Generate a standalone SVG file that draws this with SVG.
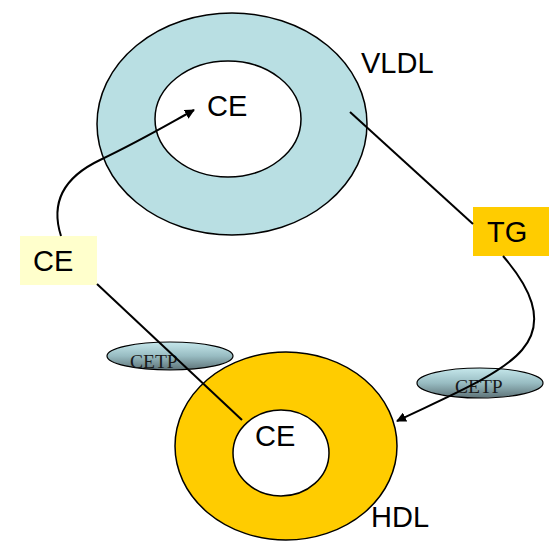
<svg xmlns="http://www.w3.org/2000/svg" width="549" height="543" viewBox="0 0 549 543">
<style>
.lbl{font-family:"Liberation Sans",Arial,sans-serif;font-size:29px;fill:#000}
.cetp{font-family:"Liberation Serif","Times New Roman",serif;font-size:19.5px;fill:#1a1a1a}
.ring{stroke:#000;stroke-width:1.5}
.conn{fill:none;stroke:#000;stroke-width:2}
</style>
<defs>
<linearGradient id="g" x1="0" y1="0" x2="0" y2="1">
<stop offset="0" stop-color="#c6e8ec"/>
<stop offset="0.5" stop-color="#98bcc2"/>
<stop offset="1" stop-color="#5e7378"/>
</linearGradient>
<marker id="arr" markerWidth="10" markerHeight="10" refX="9" refY="5" orient="auto" markerUnits="userSpaceOnUse" viewBox="0 0 10 10">
<path d="M0,0 L10,5 L0,10 z" fill="#000"/>
</marker>
</defs>
<rect width="549" height="543" fill="#fff"/>
<g id="vldl">
<ellipse class="ring" cx="232" cy="124" rx="135" ry="111" fill="#b9dfe3"/>
<ellipse class="ring" cx="228" cy="119" rx="73" ry="58" fill="#fff"/>
<text class="lbl" x="207" y="116">CE</text>
<text class="lbl" x="361" y="73">VLDL</text>
</g>
<g id="hdl">
<ellipse class="ring" cx="286" cy="446" rx="111" ry="94" fill="#ffcc00"/>
<ellipse class="ring" cx="281" cy="453" rx="48" ry="43" fill="#fff"/>
<text class="lbl" x="255" y="446">CE</text>
<text class="lbl" x="371" y="527">HDL</text>
</g>
<g id="ce-box">
<rect x="20" y="236" width="77" height="49" fill="#ffffcc"/>
<text class="lbl" x="33" y="271">CE</text>
</g>
<g id="tg-box">
<rect x="473" y="207" width="76" height="49" fill="#ffcc00"/>
<text class="lbl" x="487" y="242">TG</text>
</g>
<g id="cetp-left">
<ellipse cx="170" cy="356" rx="63" ry="14" fill="url(#g)" stroke="#000" stroke-width="1.2"/>
<text class="cetp" x="130" y="368">CETP</text>
</g>
<g id="cetp-right">
<ellipse cx="480" cy="383" rx="63" ry="15" fill="url(#g)" stroke="#000" stroke-width="1.2"/>
<text class="cetp" x="455" y="393">CETP</text>
</g>
<g id="connectors">
<path class="conn" d="M61 236 C52 208, 58 180, 100 160 S172 122, 194 110" marker-end="url(#arr)"/>
<path class="conn" d="M97 284 L242 420"/>
<path class="conn" d="M350 112 L473 224"/>
<path class="conn" d="M503 256 C528 285, 548 320, 522 350 C500 376, 440 400, 397 421" marker-end="url(#arr)"/>
</g>
</svg>
